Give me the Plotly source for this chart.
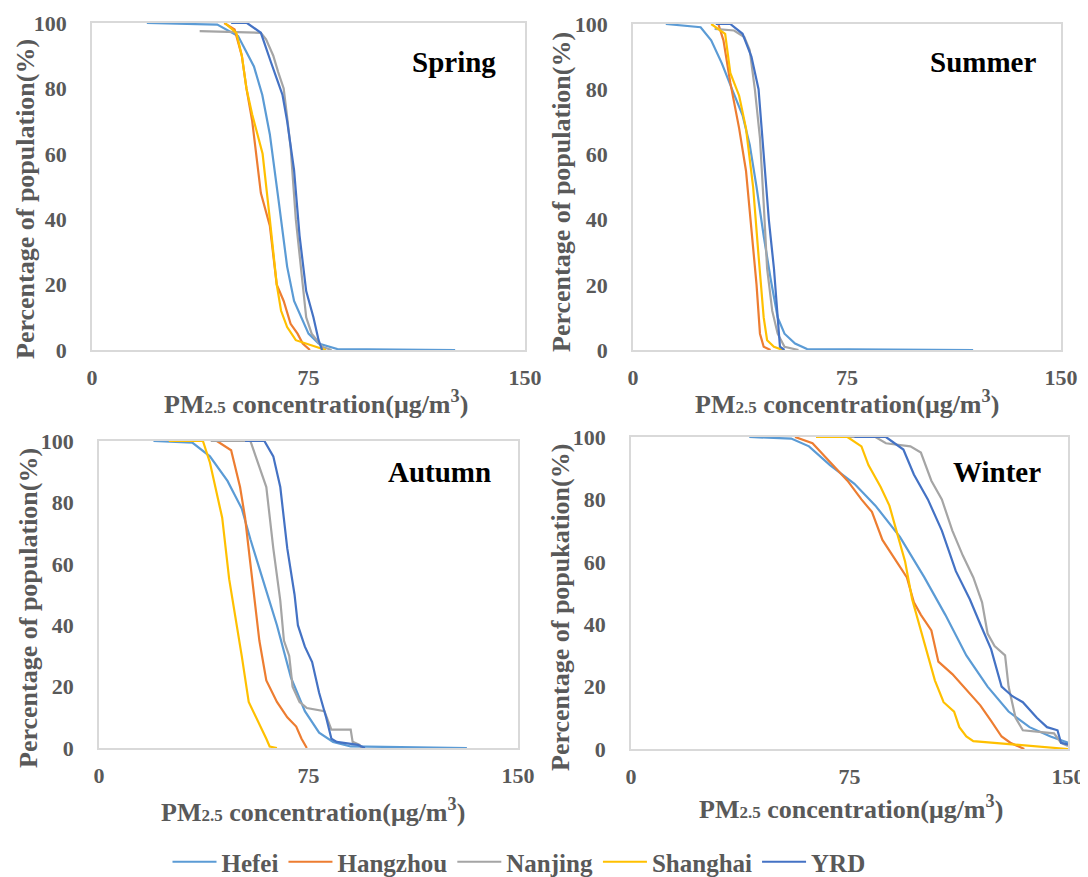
import plotly.graph_objects as go

cities = ["Hefei", "Hangzhou", "Nanjing", "Shanghai", "YRD"]
colors = ["#5B9BD5", "#ED7D31", "#A5A5A5", "#FFC000", "#4472C4"]
seasons = ["Spring", "Summer", "Autumn", "Winter"]
x_ticks = [0, 75, 150]
y_ticks = [0, 20, 40, 60, 80, 100]

# ---- Spring ----
spring_hefei_x = [19, 43.4, 50.6, 53, 56.1, 59, 61.6, 64.6, 67.6, 70, 72.5, 75, 78.5, 85, 125.8]
spring_hefei_y = [100, 99.5, 96, 92, 86.7, 78, 66, 46, 25.5, 15, 10, 5, 2, 0.3, 0]
spring_hangzhou_x = [45.8, 49.4, 51.9, 53.5, 55.5, 57, 58.5, 61.6, 64, 66.4, 68.8, 71.2, 73, 75.5]
spring_hangzhou_y = [100, 98, 90, 80, 70, 58, 48, 38, 20, 15, 8, 5, 2, 0]
spring_nanjing_x = [37.3, 58.5, 60.3, 62.8, 64.5, 66.4, 67.5, 68.8, 70.6, 72.5, 74.2, 76.1, 79.7, 83]
spring_nanjing_y = [97.5, 97, 95, 90, 85, 80, 72, 62, 40, 25, 10, 5, 1, 0]
spring_shanghai_x = [46, 50, 51.9, 53.5, 55.5, 59.1, 61.6, 63, 64, 65.5, 67.6, 70.6, 77.3, 81]
spring_shanghai_y = [100, 97, 90, 80, 72, 60, 40, 28, 20, 12, 7, 3, 1, 0]
spring_yrd_x = [48.2, 53.7, 58.5, 60.3, 62, 64, 66, 67.6, 70, 71.9, 74.2, 76.7, 78.5, 79.7]
spring_yrd_y = [100, 100, 97, 92, 88, 83, 78, 70, 55, 35, 18, 10, 3, 0]

# ---- Summer ----
summer_hefei_x = [11.5, 23.7, 27.4, 31.1, 34.7, 38.4, 40.9, 43.3, 45.8, 48.2, 50.7, 53.1, 56.8, 61, 119.2]
summer_hefei_y = [100, 99, 95, 88, 80, 72, 63, 50, 35, 22, 10, 5, 2, 0.3, 0]
summer_hangzhou_x = [29.9, 31.7, 34.1, 37.2, 39.6, 41.5, 43.3, 44.5, 45.8, 48.2]
summer_hangzhou_y = [100, 95, 82, 68, 55, 38, 20, 5, 1, 0]
summer_nanjing_x = [28.6, 35.4, 39, 40.9, 42.7, 44.5, 45.8, 47, 48.8, 50.7, 53.1, 58]
summer_nanjing_y = [98.5, 98, 96, 92, 80, 65, 45, 25, 12, 5, 1, 0]
summer_shanghai_x = [27.4, 32.3, 34.1, 37.2, 39.6, 42.1, 43.9, 45.8, 47, 49.4, 52.5]
summer_shanghai_y = [100, 97, 85, 78, 68, 50, 30, 10, 3, 1, 0]
summer_yrd_x = [29, 34.1, 38.4, 41.5, 44, 45.8, 47.6, 49.4, 50.7, 51.5, 53.1]
summer_yrd_y = [100, 100, 97, 90, 80, 60, 40, 25, 10, 1, 0]

# ---- Autumn ----
autumn_hefei_x = [19.5, 33.4, 39.7, 46, 51.1, 54.2, 58.6, 63.7, 68.7, 73.7, 78.8, 83.8, 90.1, 131.7]
autumn_hefei_y = [100, 99.5, 95, 87, 78, 68, 55, 40, 23, 12, 5, 2, 0.5, 0]
autumn_hangzhou_x = [42.2, 47.3, 50.5, 52.3, 54.2, 55.5, 57.4, 59.9, 63.7, 67.4, 70.6, 72.5, 74.4]
autumn_hangzhou_y = [100, 97, 85, 75, 60, 50, 35, 22, 15, 10, 7, 3, 0]
autumn_nanjing_x = [40, 54.2, 56.1, 59.9, 62.4, 64.9, 66.2, 68.1, 69.3, 71.8, 74.4, 80.7, 83.2, 90.1, 90.8, 93.3, 94]
autumn_nanjing_y = [100, 100, 95, 85, 65, 48, 35, 30, 20, 15, 13, 12, 6, 6, 2, 1, 0]
autumn_shanghai_x = [25, 37.2, 39.7, 41.6, 44.1, 46.6, 48.5, 51.1, 53.6, 57.4, 59.9, 61.1, 63.7]
autumn_shanghai_y = [100, 100, 93, 85, 75, 55, 45, 30, 15, 8, 3, 0.5, 0]
autumn_yrd_x = [52.3, 59.2, 62.4, 64.9, 67.4, 70, 71.2, 73.7, 76.3, 78.8, 81.3, 83.2, 85.1, 92.7, 95.2]
autumn_yrd_y = [100, 100, 95, 85, 65, 50, 40, 33, 28, 18, 10, 3, 2, 1, 0]

# ---- Winter ----
winter_hefei_x = [40.6, 55, 61.1, 68.3, 76.7, 83.9, 92.3, 100.7, 107.9, 115.1, 122.4, 129.6, 136.8, 144, 150]
winter_hefei_y = [100, 99.5, 97, 91, 85, 78, 68, 55, 43, 30, 20, 12, 7, 4, 2]
winter_hangzhou_x = [56.3, 62.3, 68.3, 74.3, 79.1, 82.7, 86.3, 89.9, 94.7, 97.1, 99.5, 103.1, 105.5, 110.3, 115.1, 119.9, 123.6, 127.2, 130.2, 135]
winter_hangzhou_y = [100, 98, 92, 86, 80, 76, 67, 62, 55, 47, 43, 38, 28, 24, 19, 14, 9, 4, 2, 0]
winter_nanjing_x = [73, 83.9, 87.5, 95.9, 99.5, 103.1, 106.7, 110.3, 113.9, 117.5, 120.5, 122.4, 124.8, 128.4, 129.6, 132, 134.5, 145.2, 147.6, 150]
winter_nanjing_y = [100, 100, 98, 97, 95, 86, 80, 70, 62, 55, 47, 37, 33, 30, 20, 10, 6, 5, 2, 1]
winter_shanghai_x = [63.5, 74.3, 79.1, 81.5, 85.7, 88.7, 91.1, 94.1, 96.5, 99.5, 101.9, 104.3, 107.3, 110.9, 112.7, 115.1, 117.5, 150]
winter_shanghai_y = [100, 100, 97, 91, 84, 78, 70, 60, 48, 38, 30, 22, 15, 12, 7, 4, 2.5, 0]
winter_yrd_x = [76.7, 87.5, 93.5, 97.1, 101.9, 106.7, 111.5, 116.3, 119.9, 123.6, 127.2, 130.8, 134.5, 139.3, 142.8, 146.4, 147.6, 150]
winter_yrd_y = [100, 100, 96, 88, 80, 70, 57, 48, 40, 32, 20, 17, 15, 10, 7, 6, 2, 1.5]

data = {
    "Spring": [(spring_hefei_x, spring_hefei_y), (spring_hangzhou_x, spring_hangzhou_y),
               (spring_nanjing_x, spring_nanjing_y), (spring_shanghai_x, spring_shanghai_y),
               (spring_yrd_x, spring_yrd_y)],
    "Summer": [(summer_hefei_x, summer_hefei_y), (summer_hangzhou_x, summer_hangzhou_y),
               (summer_nanjing_x, summer_nanjing_y), (summer_shanghai_x, summer_shanghai_y),
               (summer_yrd_x, summer_yrd_y)],
    "Autumn": [(autumn_hefei_x, autumn_hefei_y), (autumn_hangzhou_x, autumn_hangzhou_y),
               (autumn_nanjing_x, autumn_nanjing_y), (autumn_shanghai_x, autumn_shanghai_y),
               (autumn_yrd_x, autumn_yrd_y)],
    "Winter": [(winter_hefei_x, winter_hefei_y), (winter_hangzhou_x, winter_hangzhou_y),
               (winter_nanjing_x, winter_nanjing_y), (winter_shanghai_x, winter_shanghai_y),
               (winter_yrd_x, winter_yrd_y)],
}
y_titles = ["Percentage of population(%)", "Percentage of population(%)",
            "Percentage of population(%)", "Percentage of popukation(%)"]
x_title = "PM<span style='font-size:17px'>2.5</span> concentration(μg/m<sup>3</sup>)"

# page body has an 8px margin; the figure is drawn from (8, 8)
OFF = 8
W, H = 1088 - OFF, 877 - OFF
# plot areas in page pixels: left, right, top, bottom
areas = [(92, 525, 23, 350), (633, 1061, 24, 350), (99, 518, 441, 748), (631, 1068, 437, 749)]
xtitle_pos = [(316, 402), (847, 402), (313, 810), (851, 807)]
ytitle_pos = [(25, 199), (562, 192), (28, 608), (560, 608)]
season_pos = [(498, 62), (1038, 62), (493, 472), (1043, 472)]


def px(x):
    return (x - OFF) / W


def py(y):
    return 1 - (y - OFF) / H


FONT = "Liberation Serif"
GRAY = "#595959"

fig = go.Figure()
layout = dict(
    width=W, height=H, margin=dict(l=0, r=0, t=0, b=0, autoexpand=False),
    paper_bgcolor="white", plot_bgcolor="white",
    font=dict(family=FONT, size=20, color=GRAY, weight="bold"),
    showlegend=True,
    legend=dict(orientation="h", x=px(519), xanchor="center", y=py(862), yanchor="middle",
                font=dict(family=FONT, size=25, color=GRAY, weight="bold"),
                itemwidth=44, tracegroupgap=0),
)
annotations = []
for i, season in enumerate(seasons):
    l, r, t, b = areas[i]
    xa = "xaxis" if i == 0 else f"xaxis{i+1}"
    ya = "yaxis" if i == 0 else f"yaxis{i+1}"
    xref = "x" if i == 0 else f"x{i+1}"
    yref = "y" if i == 0 else f"y{i+1}"
    layout[xa] = dict(domain=[px(l), px(r)], anchor=yref, range=[0, 150], tickvals=x_ticks,
                      showgrid=False, zeroline=False, showline=True, mirror=True, automargin=False,
                      linecolor="#D9D9D9", linewidth=1.5, ticks="", ticklabelstandoff=7,
                      tickfont=dict(family=FONT, size=22, color=GRAY, weight="bold"))
    layout[ya] = dict(domain=[py(b), py(t)], anchor=xref, range=[0, 100], tickvals=y_ticks,
                      showgrid=False, zeroline=False, showline=True, mirror=True, automargin=False,
                      linecolor="#D9D9D9", linewidth=1.5, ticks="", ticklabelstandoff=19,
                      tickfont=dict(family=FONT, size=22, color=GRAY, weight="bold"))
    for j, city in enumerate(cities):
        xs, ys = data[season][j]
        fig.add_trace(go.Scatter(x=xs, y=ys, mode="lines", name=city,
                                 line=dict(color=colors[j], width=2.2),
                                 xaxis=xref, yaxis=yref, showlegend=(i == 0),
                                 legendgroup=city))
    sx, sy = season_pos[i]
    annotations.append(dict(text=season, x=px(sx), y=py(sy), xref="paper", yref="paper",
                            xanchor="right", yanchor="middle", showarrow=False,
                            font=dict(family=FONT, size=29, color="black", weight="bold")))
    xt = xtitle_pos[i]
    annotations.append(dict(text=x_title, x=px(xt[0]), y=py(xt[1]), xref="paper", yref="paper",
                            xanchor="center", yanchor="middle", showarrow=False,
                            font=dict(family=FONT, size=26, color=GRAY, weight="bold")))
    yt = ytitle_pos[i]
    annotations.append(dict(text=y_titles[i], x=px(yt[0]), y=py(yt[1]), xref="paper", yref="paper",
                            xanchor="center", yanchor="middle", showarrow=False, textangle=-90,
                            font=dict(family=FONT, size=26, color=GRAY, weight="bold")))
layout["annotations"] = annotations
fig.update_layout(**layout)
fig.write_html("out.html")
